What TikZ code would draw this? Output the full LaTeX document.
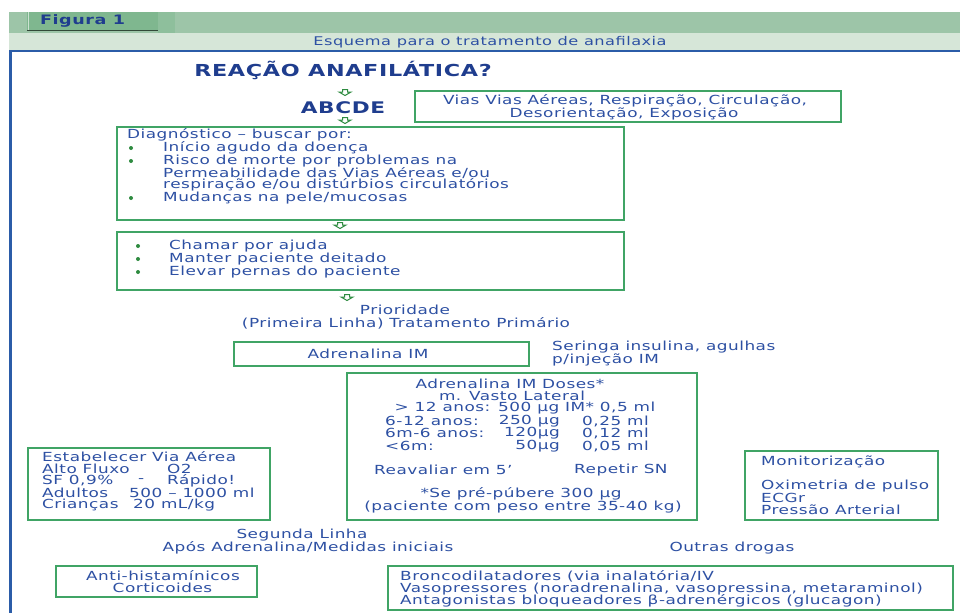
\documentclass[tikz,border=0pt]{standalone}
\usepackage{fontspec}
\setmainfont{DejaVu Sans}[FakeStretch=1.35,LetterSpace=4]
\definecolor{tblue}{HTML}{2D50A3}
\definecolor{ttitle}{HTML}{1F3D8E}
\definecolor{bgreen}{HTML}{40A465}
\definecolor{dgreen}{HTML}{2E8B40}
\definecolor{hdrg}{HTML}{9DC5A8}
\definecolor{tabg}{HTML}{7FB78F}
\definecolor{tabe}{HTML}{8EBF9C}
\definecolor{bandg}{HTML}{D6E6D8}
\definecolor{fblue}{HTML}{2B5CA8}
\begin{document}
\begin{tikzpicture}[x=1pt,y=-1pt,
 txt/.style={inner sep=0pt, text=tblue, font=\fontsize{12.5}{12.5}\selectfont},
 wt/.style={txt, anchor=west},
 et/.style={txt, anchor=east},
 boldt/.style={inner sep=0pt, text=ttitle, font=\bfseries\fontsize{#1}{#1}\selectfont},
 box/.style={draw=bgreen, line width=1.6pt, inner sep=0pt},
 bul/.style={circle, fill=dgreen, inner sep=0pt, minimum size=4pt},
 dnarrow/.pic={\draw[dgreen, line width=1pt, line join=miter] (-2.5,-3.5) -- (2.5,-3.5) -- (2.5,-1) -- (6,-1) -- (0,2.5) -- (-6,-1) -- (-2.5,-1) -- cycle;}
]
\fill[white] (0,0) rectangle (960,613);
\useasboundingbox (0,0) rectangle (960,613);
% header
\fill[hdrg] (9,12) rectangle (960,33);
\fill[tabe] (158,12) rectangle (175,33);
\fill[tabg] (27,12) rectangle (158,30);
\draw[white!60!tabg, line width=1pt] (28,12) -- (28,30);
\draw[black!60!tabg, line width=1.2pt] (27,30.5) -- (158,30.5);
\fill[bandg] (9,33) rectangle (960,50);
\draw[fblue, line width=1.8pt] (9,51) -- (960,51);
\draw[fblue, line width=3pt] (10.5,50) -- (10.5,613);
\node[boldt=13, anchor=west] (fig) at (40,21) {Figura 1};
\node[txt, font=\fontsize{12}{12}\selectfont] (esq) at (490,42) {Esquema para o tratamento de anafilaxia};

% title
\node[boldt=16.5] (title) at (343,70) {REAÇÃO ANAFILÁTICA?};
\pic at (345,93) {dnarrow};
\node[boldt=16] (abcde) at (343,108) {ABCDE};
\pic at (345,121) {dnarrow};

% Vias box
\node[box, minimum width=426pt, minimum height=31pt] (vias) at (628,106.5) {};
\node[txt] (v1) at (625,101) {Vias Vias Aéreas, Respiração, Circulação,};
\node[txt] (v2) at (624,114) {Desorientação, Exposição};

% Diagnostico box
\node[box, minimum width=507pt, minimum height=93pt] (diag) at (370.5,173.5) {};
\node[wt] (d0) at (127,135) {Diagnóstico – buscar por:};
\node[bul] (db1) at (131,148) {};
\node[wt] (d1) at (163,148) {Início agudo da doença};
\node[bul] (db2) at (131,161) {};
\node[wt] (d2) at (163,161) {Risco de morte por problemas na};
\node[wt] (d3) at (163,173) {Permeabilidade das Vias Aéreas e/ou};
\node[wt] (d4) at (163,185) {respiração e/ou distúrbios circulatórios};
\node[bul] (db3) at (131,198) {};
\node[wt] (d5) at (163,198) {Mudanças na pele/mucosas};
\pic at (340,226) {dnarrow};

% Medidas box
\node[box, minimum width=507pt, minimum height=58pt] (med) at (370.5,261) {};
\node[bul] (mb1) at (138,246) {};
\node[wt] (m1) at (169,246) {Chamar por ajuda};
\node[bul] (mb2) at (138,259) {};
\node[wt] (m2) at (169,259) {Manter paciente deitado};
\node[bul] (mb3) at (138,272) {};
\node[wt] (m3) at (169,272) {Elevar pernas do paciente};
\pic at (347,298) {dnarrow};

\node[txt] (prio) at (405,310) {Prioridade};
\node[txt] (prim) at (406,323) {(Primeira Linha) Tratamento Primário};

% Adrenalina IM
\node[box, minimum width=295pt, minimum height=24pt] (adr) at (381.5,354) {};
\node[txt] (adrt) at (368,354) {Adrenalina IM};
\node[wt] (ser1) at (552,347) {Seringa insulina, agulhas};
\node[wt] (ser2) at (552,360) {p/injeção IM};

% Doses box
\node[box, minimum width=350pt, minimum height=147pt] (dos) at (522,446.5) {};
\node[txt] (o1) at (510,384) {Adrenalina IM Doses*};
\node[txt] (o2) at (512,396) {m. Vasto Lateral};
\node[txt] (o3) at (525,408) {> 12 anos: 500 µg IM* 0,5 ml};
\node[wt] (o4a) at (385,421) {6-12 anos:};
\node[et] (o4b) at (560,421) {250 µg};
\node[wt] (o4c) at (582,421) {0,25 ml};
\node[wt] (o5a) at (385,433) {6m-6 anos:};
\node[et] (o5b) at (560,433) {120µg};
\node[wt] (o5c) at (582,433) {0,12 ml};
\node[wt] (o6a) at (385,446) {<6m:};
\node[et] (o6b) at (560,446) {50µg};
\node[wt] (o6c) at (582,446) {0,05 ml};
\node[wt] (o7a) at (374,470) {Reavaliar em 5'};
\node[wt] (o7b) at (574,470) {Repetir SN};
\node[txt] (o8) at (521,494) {*Se pré-púbere 300 µg};
\node[txt] (o9) at (523,507) {(paciente com peso entre 35-40 kg)};

% Estabelecer box
\node[box, minimum width=242pt, minimum height=72pt] (est) at (149,484) {};
\node[wt] (e1) at (42,457) {Estabelecer Via Aérea};
\node[wt] (e2a) at (42,469) {Alto Fluxo};
\node[wt] (e2b) at (167,469) {O2};
\node[wt] (e3a) at (42,481) {SF 0,9\%};
\node[wt] (e3b) at (138,481) {-};
\node[wt] (e3c) at (167,481) {Rápido!};
\node[wt] (e4a) at (42,493) {Adultos};
\node[wt] (e4b) at (129,493) {500 – 1000 ml};
\node[wt] (e5a) at (42,505) {Crianças};
\node[wt] (e5b) at (133,505) {20 mL/kg};

% Monitorizacao box
\node[box, minimum width=193pt, minimum height=69pt] (mon) at (841.5,485.5) {};
\node[wt] (n1) at (761,462) {Monitorização};
\node[wt] (n2) at (761,486) {Oximetria de pulso};
\node[wt] (n3) at (761,498) {ECGr};
\node[wt] (n4) at (761,510) {Pressão Arterial};

% Segunda linha
\node[txt] (seg1) at (302,535) {Segunda Linha};
\node[txt] (seg2) at (308,548) {Após Adrenalina/Medidas iniciais};
\node[txt] (outr) at (732,548) {Outras drogas};

% Anti-histaminicos box
\node[box, minimum width=201pt, minimum height=31pt] (anti) at (156.5,581.5) {};
\node[txt] (a1) at (163,576) {Anti-histamínicos};
\node[txt] (a2) at (162.5,588) {Corticoides};

% Bronco box
\node[box, minimum width=565pt, minimum height=44pt] (bron) at (670.5,588) {};
\node[wt] (b1) at (400,576) {Broncodilatadores (via inalatória/IV};
\node[wt] (b2) at (400,589) {Vasopressores (noradrenalina, vasopressina, metaraminol)};
\node[wt] (b3) at (400,601) {Antagonistas bloqueadores β-adrenérgicos (glucagon)};
\end{tikzpicture}
\end{document}
